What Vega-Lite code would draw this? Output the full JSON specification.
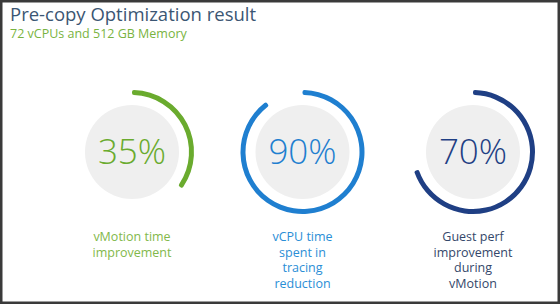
{
  "$schema": "https://vega.github.io/schema/vega-lite/v6.json",
  "width": 560,
  "height": 304,
  "autosize": {"type": "fit", "contains": "padding"},
  "padding": 0,
  "background": "#ffffff",
  "config": {
    "view": {"stroke": "#3a3a3a", "strokeWidth": 5},
    "font": "Open Sans"
  },
  "title": {
    "text": "Pre-copy Optimization result",
    "subtitle": "72 vCPUs and 512 GB Memory",
    "anchor": "start",
    "frame": "group",
    "offset": -40,
    "dx": 10,
    "font": "Open Sans",
    "fontSize": 18.5,
    "fontWeight": "normal",
    "color": "#3b5673",
    "subtitleFont": "Open Sans",
    "subtitleFontSize": 12.5,
    "subtitleColor": "#79b340",
    "subtitlePadding": 3
  },
  "data": {
    "values": [
      {"metric": "vMotion", "value": 35, "caption": "vMotion time\nimprovement"},
      {"metric": "vCPU", "value": 90, "caption": "vCPU time\nspent in\ntracing\nreduction"},
      {"metric": "Guest", "value": 70, "caption": "Guest perf\nimprovement\nduring\nvMotion"}
    ]
  },
  "transform": [{"calculate": "datum.value + '%'", "as": "pctText"}],
  "encoding": {
    "x": {
      "field": "metric",
      "type": "nominal",
      "scale": {"type": "point", "domain": ["vMotion", "vCPU", "Guest"], "range": [132, 473], "padding": 0},
      "axis": null
    },
    "color": {
      "field": "metric",
      "type": "nominal",
      "scale": {"domain": ["vMotion", "vCPU", "Guest"], "range": ["#6aab2e", "#1f7fd0", "#1f3f84"]},
      "legend": null
    }
  },
  "layer": [
    {
      "mark": {"type": "arc", "theta": 0, "theta2": 6.2832, "radius": 47, "fill": "#efefef"},
      "encoding": {
        "y": {"datum": "ring", "type": "nominal", "scale": {"type": "point", "domain": ["ring", "caption"], "range": [152, 231], "padding": 0}, "axis": null},
        "color": {"value": "#efefef"}
      }
    },
    {
      "mark": {"type": "arc", "radius": 62, "radius2": 57, "cornerRadius": 2},
      "encoding": {
        "y": {"datum": "ring", "type": "nominal", "axis": null},
        "theta": {"field": "value", "type": "quantitative", "stack": null, "scale": {"domain": [0, 100], "range": [0, 6.2832]}},
        "theta2": {"datum": 0}
      }
    },
    {
      "mark": {"type": "text", "fontSize": 35, "fontWeight": 300, "baseline": "middle", "align": "center", "dy": 1},
      "encoding": {
        "y": {"datum": "ring", "type": "nominal", "axis": null},
        "text": {"field": "pctText"}
      }
    },
    {
      "mark": {"type": "text", "fontSize": 12.5, "baseline": "top", "align": "center", "lineBreak": "\n", "lineHeight": 15.5},
      "encoding": {
        "y": {"datum": "caption", "type": "nominal", "axis": null},
        "text": {"field": "caption"},
        "color": {
          "field": "metric",
          "type": "nominal",
          "scale": {"domain": ["vMotion", "vCPU", "Guest"], "range": ["#82b84a", "#2a8ed6", "#34476a"]},
          "legend": null
        }
      }
    }
  ],
  "resolve": {"scale": {"color": "independent"}}
}
